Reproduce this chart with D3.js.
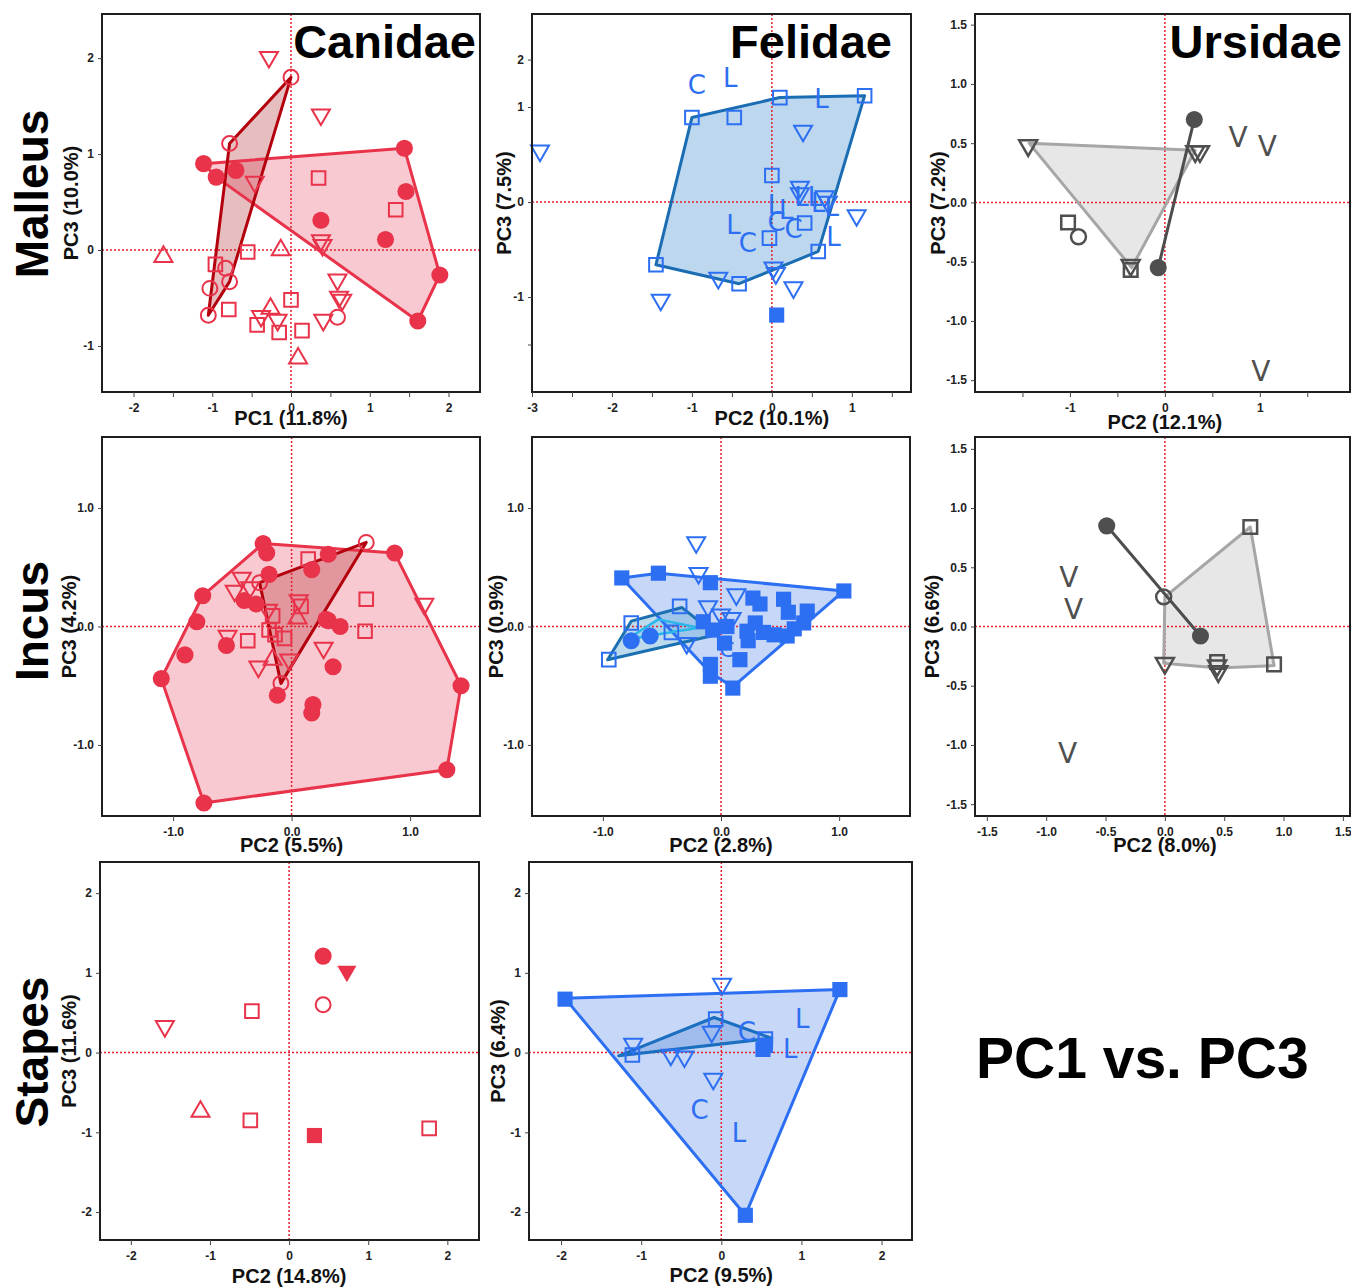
<!DOCTYPE html>
<meta charset="utf-8">

<!-- Load d3.js -->
<script src="https://d3js.org/d3.v7.min.js"></script>

<html>
<head>
<style>
body { margin: 0; background: #fff; }
svg text { font-family: "Liberation Sans", Arial, sans-serif; }
</style>
</head>
<body>
<div id="fig"></div>
</body>
</html>

<script>

// ---------------------------//
//       DATA                 //
// ---------------------------//
// one array per panel, each point is [x, y, marker]
// markers: dot = filled circle, ring = open circle, box = open square,
// block = filled square, down / downF = triangle down, up = triangle up,
// letters C / L / V are drawn as text

var malleusCanidae = [
  [-0.28,2.01,"down"],[0.0,1.8,"ring"],[0.38,1.41,"down"],[-0.78,1.11,"ring"],
  [-1.11,0.90,"dot"],[-0.95,0.76,"dot"],[-0.70,0.83,"dot"],[-0.46,0.71,"down"],
  [0.35,0.75,"box"],[1.44,1.06,"dot"],[1.46,0.61,"dot"],[1.33,0.42,"box"],
  [0.38,0.31,"dot"],[1.20,0.11,"dot"],[0.38,0.10,"down"],[0.40,0.05,"down"],
  [1.89,-0.26,"dot"],[1.61,-0.74,"dot"],[-1.62,-0.07,"up"],[-0.13,0.0,"up"],
  [-0.55,-0.02,"box"],[-0.96,-0.15,"box"],[-0.83,-0.19,"ring"],[-0.78,-0.33,"ring"],
  [-1.03,-0.40,"ring"],[-1.05,-0.68,"ring"],[-0.79,-0.62,"box"],[0.59,-0.31,"down"],
  [0.61,-0.49,"down"],[0.65,-0.52,"down"],[0.0,-0.52,"box"],[-0.26,-0.61,"up"],
  [-0.38,-0.69,"down"],[-0.43,-0.78,"box"],[-0.17,-0.73,"down"],[-0.15,-0.86,"box"],
  [0.14,-0.84,"box"],[0.59,-0.70,"ring"],[0.41,-0.73,"down"],[0.09,-1.13,"up"]
];
var malleusCanidaeHulls = [
  {style: "canMain", pts: [[-1.11,0.90],[1.44,1.06],[1.89,-0.26],[1.61,-0.74],[-0.95,0.76]]},
  {style: "canDark", pts: [[0.0,1.8],[-0.78,1.11],[-1.05,-0.68],[-0.78,-0.33]]}
];

var malleusFelidae = [
  [-2.9,0.54,"down"],[-0.94,1.24,"C"],[-0.52,1.31,"L"],[-1.0,0.89,"box"],[-0.47,0.89,"box"],
  [0.1,1.10,"box"],[0.62,1.09,"L"],[1.16,1.12,"box"],[0.39,0.75,"down"],[0.0,0.28,"box"],
  [0.35,0.16,"down"],[0.35,0.09,"down"],[0.37,0.06,"L"],[0.54,0.06,"L"],[0.58,-0.01,"L"],
  [0.66,0.06,"down"],[0.70,0.0,"down"],[0.75,-0.05,"L"],[0.04,-0.03,"L"],[0.18,-0.08,"L"],
  [0.06,-0.21,"C"],[0.27,-0.28,"C"],[0.41,-0.22,"box"],[1.06,-0.14,"down"],[-0.48,-0.24,"L"],
  [-0.30,-0.43,"C"],[-0.03,-0.38,"box"],[0.77,-0.36,"L"],[0.58,-0.52,"box"],[-1.45,-0.66,"box"],
  [-0.67,-0.80,"down"],[-0.41,-0.86,"box"],[0.02,-0.69,"down"],[0.05,-0.75,"down"],[0.27,-0.90,"down"],
  [-1.39,-1.03,"down"],[0.06,-1.19,"block"]
];
var malleusFelidaeHulls = [
  {style: "felMal", pts: [[-1.45,-0.66],[-1.0,0.89],[0.1,1.10],[1.16,1.12],[0.58,-0.52],[-0.41,-0.86]]}
];

var malleusUrsidae = [
  [-1.44,0.48,"down"],[0.32,0.43,"down"],[0.37,0.43,"down"],[0.31,0.70,"dot"],[0.77,0.55,"V"],
  [1.08,0.48,"V"],[-1.02,-0.17,"box"],[-0.91,-0.29,"ring"],[-0.36,-0.53,"down"],[-0.36,-0.57,"box"],
  [-0.07,-0.55,"dot"],[1.01,-1.42,"V"]
];
var malleusUrsidaeHulls = [
  {style: "ursHull", pts: [[-1.43,0.50],[0.32,0.44],[-0.35,-0.55]]},
  {style: "ursLine", pts: [[0.31,0.70],[-0.07,-0.55]]}
];

var incusCanidae = [
  [-0.24,0.70,"dot"],[-0.21,0.62,"dot"],[0.87,0.62,"dot"],[0.31,0.61,"dot"],[0.17,0.48,"dot"],
  [-0.19,0.44,"dot"],[-0.75,0.26,"dot"],[-0.40,0.22,"dot"],[-0.30,0.19,"dot"],[-0.80,0.04,"dot"],
  [0.31,0.05,"dot"],[0.41,0.0,"dot"],[0.29,0.06,"dot"],[-0.55,-0.16,"dot"],[-0.90,-0.24,"dot"],
  [-1.10,-0.44,"dot"],[0.35,-0.34,"dot"],[-0.12,-0.58,"dot"],[0.18,-0.66,"dot"],[0.17,-0.73,"dot"],
  [1.43,-0.50,"dot"],[1.31,-1.21,"dot"],[-0.74,-1.49,"dot"],
  [0.63,0.71,"ring"],[-0.09,-0.48,"ring"],[-0.27,0.37,"ring"],
  [0.14,0.57,"box"],[0.63,0.23,"box"],[0.62,-0.04,"box"],[-0.37,-0.12,"box"],[-0.06,-0.10,"box"],
  [0.08,0.17,"box"],[-0.16,0.09,"box"],[-0.19,-0.03,"box"],[-0.14,-0.07,"box"],
  [-0.42,0.41,"down"],[-0.48,0.30,"down"],[-0.35,0.33,"down"],[-0.20,0.14,"down"],[0.06,0.22,"down"],
  [-0.54,-0.08,"down"],[0.27,-0.18,"down"],[-0.28,-0.34,"down"],[-0.02,-0.28,"down"],[1.12,0.19,"down"],
  [0.05,0.07,"up"],[-0.16,-0.28,"up"]
];
var incusCanidaeHulls = [
  {style: "canMain", pts: [[-0.24,0.70],[0.87,0.62],[1.43,-0.50],[1.31,-1.21],[-0.74,-1.49],[-1.10,-0.44],[-0.75,0.26]]},
  {style: "canDark", pts: [[-0.27,0.37],[0.63,0.71],[-0.09,-0.48]]}
];

var incusFelidae = [
  [-0.84,0.41,"block"],[-0.53,0.45,"block"],[-0.09,0.37,"block"],[1.04,0.30,"block"],[0.27,0.24,"block"],
  [0.33,0.19,"block"],[0.53,0.23,"block"],[0.57,0.12,"block"],[0.73,0.13,"block"],[0.70,0.03,"block"],
  [0.29,0.03,"block"],[0.22,-0.04,"block"],[0.36,-0.05,"block"],[0.56,-0.08,"block"],[0.23,-0.12,"block"],
  [0.16,-0.28,"block"],[-0.09,-0.32,"block"],[-0.09,-0.42,"block"],[0.10,-0.52,"block"],[-0.15,0.04,"block"],
  [-0.07,-0.03,"block"],[0.05,0.0,"block"],[0.03,-0.14,"block"],[0.45,-0.07,"block"],[0.62,-0.02,"block"],
  [-0.35,0.17,"box"],[-0.76,0.03,"box"],[-0.95,-0.28,"box"],[-0.42,-0.05,"box"],
  [-0.76,-0.12,"dot"],[-0.60,-0.08,"dot"],
  [-0.21,0.71,"down"],[-0.19,0.45,"down"],[0.13,0.27,"down"],[-0.11,0.17,"down"],[0.0,0.10,"down"],
  [0.09,0.07,"down"],[-0.29,-0.14,"down"],
  [0.05,-0.19,"C"]
];
var incusFelidaeHulls = [
  {style: "felMain", pts: [[-0.84,0.41],[-0.53,0.45],[1.04,0.30],[0.10,-0.51],[-0.09,-0.39]]},
  {style: "felTeal", pts: [[-0.96,-0.28],[-0.76,0.045],[-0.33,0.16],[-0.04,-0.07]]},
  {style: "felCyan", pts: [[-0.80,-0.11],[-0.53,0.06],[-0.19,-0.01]]}
];

var incusUrsidae = [
  [-0.49,0.85,"dot"],[0.30,-0.08,"dot"],[-0.01,0.25,"ring"],
  [0.72,0.84,"box"],[0.92,-0.32,"box"],[0.44,-0.30,"box"],
  [0.44,-0.33,"down"],[0.45,-0.38,"down"],[0.0,-0.31,"down"],
  [-0.81,0.42,"V"],[-0.77,0.15,"V"],[-0.82,-1.07,"V"]
];
var incusUrsidaeHulls = [
  {style: "ursHull", pts: [[0.0,0.25],[0.72,0.84],[0.92,-0.33],[0.45,-0.35],[-0.01,-0.31]]},
  {style: "ursLine", pts: [[-0.49,0.85],[0.30,-0.08]]}
];

var stapesCanidae = [
  [0.43,1.21,"dot"],[0.73,1.02,"downF"],[0.43,0.60,"ring"],[-0.47,0.52,"box"],[-1.57,0.33,"down"],
  [-1.12,-0.74,"up"],[-0.49,-0.85,"box"],[0.32,-1.04,"block"],[1.77,-0.95,"box"]
];
var stapesCanidaeHulls = [];

var stapesFelidae = [
  [-1.95,0.67,"block"],[1.48,0.79,"block"],[0.30,-2.04,"block"],[0.52,0.04,"block"],[0.55,0.09,"block"],
  [0.01,0.86,"down"],[-0.12,0.26,"down"],[-1.10,0.11,"down"],[-0.63,-0.03,"down"],[-0.46,-0.05,"down"],
  [-0.10,-0.33,"down"],
  [-0.07,0.42,"box"],[0.55,0.17,"box"],[-1.11,-0.03,"box"],
  [0.32,0.26,"C"],[-0.27,-0.72,"C"],[1.01,0.43,"L"],[0.86,0.05,"L"],[0.22,-1.01,"L"]
];
var stapesFelidaeHulls = [
  {style: "felMain", pts: [[-1.95,0.68],[1.48,0.79],[0.30,-2.04]]},
  {style: "felSmall", pts: [[-1.28,-0.04],[-0.09,0.44],[0.63,0.18]]}
];

// tick values and labels
var ticksHalf2 = [-2,-1.5,-1,-0.5,0,0.5,1,1.5,2];
var ticksHalf3 = [-3,-2.5,-2,-1.5,-1,-0.5,0,0.5,1,1.5];
var ticksHalf15 = [-1.5,-1,-0.5,0,0.5,1,1.5];
var ticksInt1 = [-1,0,1];
var ticksInt2 = [-2,-1,0,1,2];
var ticksMalleusY = [-1,0,1,2];
var ticksFelidaeY = [-1.5,-1,0,1,1.5];
var labelsFelidaeY = ["","-1","0","1","2"];

var xTitles = ["PC1 (11.8%)","PC2 (10.1%)","PC2 (12.1%)","PC2 (5.5%)","PC2 (2.8%)","PC2 (8.0%)","PC2 (14.8%)","PC2 (9.5%)"];
var yTitles = ["PC3 (10.0%)","PC3 (7.5%)","PC3 (7.2%)","PC3 (4.2%)","PC3 (0.9%)","PC3 (6.6%)","PC3 (11.6%)","PC3 (6.4%)"];
var families = ["Canidae","Felidae","Ursidae"];
var bones = ["Malleus","Incus","Stapes"];

// ---------------------------//
//       STYLES               //
// ---------------------------//
var RED = "#e8334a", BLUE = "#2d6ff2", GREY = "#4f4f4f";

var hullStyles = {
  canMain: {stroke: "#e8334a", fill: "#f8c9d0", w: 3},
  canDark: {stroke: "#b3000c", fill: "rgba(170,20,30,0.28)", w: 3},
  felMal: {stroke: "#1b6db3", fill: "#bdd7ef", w: 3},
  felMain: {stroke: "#2d6ff2", fill: "#c7d7f7", w: 3},
  felTeal: {stroke: "#1a70b0", fill: "rgba(110,175,215,0.45)", w: 3},
  felCyan: {stroke: "#29b6ec", fill: "rgba(120,200,240,0.35)", w: 2.5},
  felSmall: {stroke: "#1a6fc0", fill: "rgba(60,120,210,0.28)", w: 3},
  ursHull: {stroke: "#a6a6a6", fill: "#e7e7e7", w: 3},
  ursLine: {stroke: "#4d4d4d", fill: "none", w: 3}
};

var markers = {
  dot:   {type: d3.symbolCircle,   size: 230, filled: true,  rot: 0},
  ring:  {type: d3.symbolCircle,   size: 175, filled: false, rot: 0},
  box:   {type: d3.symbolSquare,   size: 185, filled: false, rot: 0},
  block: {type: d3.symbolSquare,   size: 230, filled: true,  rot: 0},
  down:  {type: d3.symbolTriangle, size: 140, filled: false, rot: 180},
  downF: {type: d3.symbolTriangle, size: 160, filled: true,  rot: 180},
  up:    {type: d3.symbolTriangle, size: 140, filled: false, rot: 0}
};

var fmtInt = function(d) { return Number.isInteger(d) ? String(d) : ""; };
var fmtOne = function(d) { return d.toFixed(1); };
var fmtFel = function(d, i) { return labelsFelidaeY[i]; };

// panel layout: box = [left, top, right, bottom] of the frame
var panels = [
  {pts: malleusCanidae, hulls: malleusCanidaeHulls, color: RED, box: [102,14,480,392],
   xDom: [-2.4,2.4], yDom: [-1.48,2.46], xTicks: ticksHalf2, xFmt: fmtInt, yTicks: ticksMalleusY, yFmt: fmtInt,
   xTitleY: 425, yTitleX: 71, letter: 26},
  {pts: malleusFelidae, hulls: malleusFelidaeHulls, color: BLUE, box: [532,14,911,392],
   xDom: [-3,1.74], yDom: [-2.0,1.98], xTicks: ticksHalf3, xFmt: fmtInt, yTicks: ticksFelidaeY, yFmt: fmtFel,
   xTitleY: 425, yTitleX: 504, letter: 26},
  {pts: malleusUrsidae, hulls: malleusUrsidaeHulls, color: GREY, box: [975,14,1350,392],
   xDom: [-2.0,1.95], yDom: [-1.6,1.59], xTicks: ticksHalf15, xFmt: fmtInt, yTicks: ticksHalf15, yFmt: fmtOne,
   xTitleY: 429, yTitleX: 938, letter: 28},
  {pts: incusCanidae, hulls: incusCanidaeHulls, color: RED, box: [102,437,480,816],
   xDom: [-1.6,1.59], yDom: [-1.6,1.6], xTicks: ticksInt1, xFmt: fmtOne, yTicks: ticksInt1, yFmt: fmtOne,
   xTitleY: 852, yTitleX: 69, letter: 26},
  {pts: incusFelidae, hulls: incusFelidaeHulls, color: BLUE, box: [532,437,910,816],
   xDom: [-1.6,1.6], yDom: [-1.6,1.6], xTicks: ticksInt1, xFmt: fmtOne, yTicks: ticksInt1, yFmt: fmtOne,
   xTitleY: 852, yTitleX: 496, letter: 22},
  {pts: incusUrsidae, hulls: incusUrsidaeHulls, color: GREY, box: [975,437,1350,816],
   xDom: [-1.6,1.56], yDom: [-1.6,1.6], xTicks: ticksHalf15, xFmt: fmtOne, yTicks: ticksHalf15, yFmt: fmtOne,
   xTitleY: 852, yTitleX: 932, letter: 28},
  {pts: stapesCanidae, hulls: stapesCanidaeHulls, color: RED, box: [100,862,479,1240],
   xDom: [-2.39,2.4], yDom: [-2.35,2.39], xTicks: ticksInt2, xFmt: fmtInt, yTicks: ticksInt2, yFmt: fmtInt,
   xTitleY: 1283, yTitleX: 69, letter: 26},
  {pts: stapesFelidae, hulls: stapesFelidaeHulls, color: BLUE, box: [529,862,912,1240],
   xDom: [-2.4,2.38], yDom: [-2.35,2.39], xTicks: ticksInt2, xFmt: fmtInt, yTicks: ticksInt2, yFmt: fmtInt,
   xTitleY: 1282, yTitleX: 498, letter: 26}
];

var svg = d3.select("#fig")
  .append("svg")
    .attr("width", 1351)
    .attr("height", 1288)
    .style("background", "#fff");

// ---------------------------//
//       PANELS               //
// ---------------------------//
panels.forEach(function(p, i) {
  var x = d3.scaleLinear().domain(p.xDom).range([p.box[0], p.box[2]]);
  var y = d3.scaleLinear().domain(p.yDom).range([p.box[3], p.box[1]]);
  var g = svg.append("g");
  var line = d3.line().x(function(d) { return x(d[0]); }).y(function(d) { return y(d[1]); });

  // hull fills
  p.hulls.forEach(function(h) {
    var st = hullStyles[h.style];
    if (st.fill === "none") return;
    g.append("path")
      .attr("d", line(h.pts) + "Z")
      .attr("fill", st.fill)
      .attr("stroke", "none");
  });

  // red dotted zero lines
  g.append("line")
    .attr("x1", x(0)).attr("x2", x(0)).attr("y1", p.box[1]).attr("y2", p.box[3])
    .attr("stroke", "#e4202e").attr("stroke-width", 1.5).attr("stroke-dasharray", "2,2");
  g.append("line")
    .attr("x1", p.box[0]).attr("x2", p.box[2]).attr("y1", y(0)).attr("y2", y(0))
    .attr("stroke", "#e4202e").attr("stroke-width", 1.5).attr("stroke-dasharray", "2,2");

  // hull outlines
  p.hulls.forEach(function(h) {
    var st = hullStyles[h.style];
    g.append("path")
      .attr("d", line(h.pts) + (h.pts.length > 2 ? "Z" : ""))
      .attr("fill", "none")
      .attr("stroke", st.stroke)
      .attr("stroke-width", st.w)
      .attr("stroke-linejoin", "round");
  });

  // points
  p.pts.forEach(function(d) {
    var px = x(d[0]), py = y(d[1]), m = markers[d[2]];
    if (!m) {
      g.append("text")
        .attr("x", px).attr("y", py)
        .attr("dy", "0.36em")
        .attr("text-anchor", "middle")
        .style("font-family", "'DejaVu Sans', Verdana, sans-serif")
        .style("font-size", p.letter + "px")
        .attr("fill", p.color)
        .text(d[2]);
      return;
    }
    g.append("path")
      .attr("transform", "translate(" + px + "," + py + ") rotate(" + m.rot + ")")
      .attr("d", d3.symbol().type(m.type).size(m.size)())
      .attr("fill", m.filled ? p.color : "none")
      .attr("stroke", m.filled ? "none" : p.color)
      .attr("stroke-width", p.color === GREY ? 2.5 : 2);
  });

  // frame
  g.append("rect")
    .attr("x", p.box[0]).attr("y", p.box[1])
    .attr("width", p.box[2] - p.box[0]).attr("height", p.box[3] - p.box[1])
    .attr("fill", "none").attr("stroke", "#1e1e1e").attr("stroke-width", 2);

  // axes
  var gx = g.append("g")
    .attr("transform", "translate(0," + p.box[3] + ")")
    .call(d3.axisBottom(x).tickValues(p.xTicks).tickFormat(p.xFmt).tickSize(5).tickPadding(6));
  var gy = g.append("g")
    .attr("transform", "translate(" + p.box[0] + ",0)")
    .call(d3.axisLeft(y).tickValues(p.yTicks).tickFormat(p.yFmt).tickSize(4).tickPadding(4));
  [gx, gy].forEach(function(a) {
    a.select(".domain").remove();
    a.selectAll("line").attr("stroke", "#444");
    a.selectAll("text")
      .style("font-family", "'Liberation Sans', Arial, sans-serif")
      .style("font-size", "12px")
      .style("font-weight", "bold")
      .attr("fill", "#222");
  });

  // axis titles
  g.append("text")
    .attr("x", x(0)).attr("y", p.xTitleY)
    .attr("text-anchor", "middle")
    .style("font-size", "20px").style("font-weight", "bold")
    .attr("fill", "#111")
    .text(xTitles[i]);
  g.append("text")
    .attr("transform", "translate(" + p.yTitleX + "," + ((p.box[1] + p.box[3]) / 2) + ") rotate(-90)")
    .attr("dy", "0.36em")
    .attr("text-anchor", "middle")
    .style("font-size", "20px").style("font-weight", "bold")
    .attr("fill", "#111")
    .text(yTitles[i]);
});

// ---------------------------//
//       LABELS               //
// ---------------------------//
var famRight = [476, 892, 1342];
families.forEach(function(f, i) {
  svg.append("text")
    .attr("x", famRight[i]).attr("y", 58)
    .attr("text-anchor", "end")
    .style("font-size", "47px").style("font-weight", "bold")
    .attr("fill", "#000")
    .text(f);
});

var boneY = [194, 621, 1052];
bones.forEach(function(b, i) {
  svg.append("text")
    .attr("transform", "translate(31," + boneY[i] + ") rotate(-90)")
    .attr("dy", "0.36em")
    .attr("text-anchor", "middle")
    .style("font-size", "46px").style("font-weight", "bold")
    .attr("fill", "#000")
    .text(b);
});

svg.append("text")
  .attr("x", 976).attr("y", 1078)
  .style("font-size", "57px").style("font-weight", "bold")
  .attr("fill", "#000")
  .text("PC1 vs. PC3");

</script>
